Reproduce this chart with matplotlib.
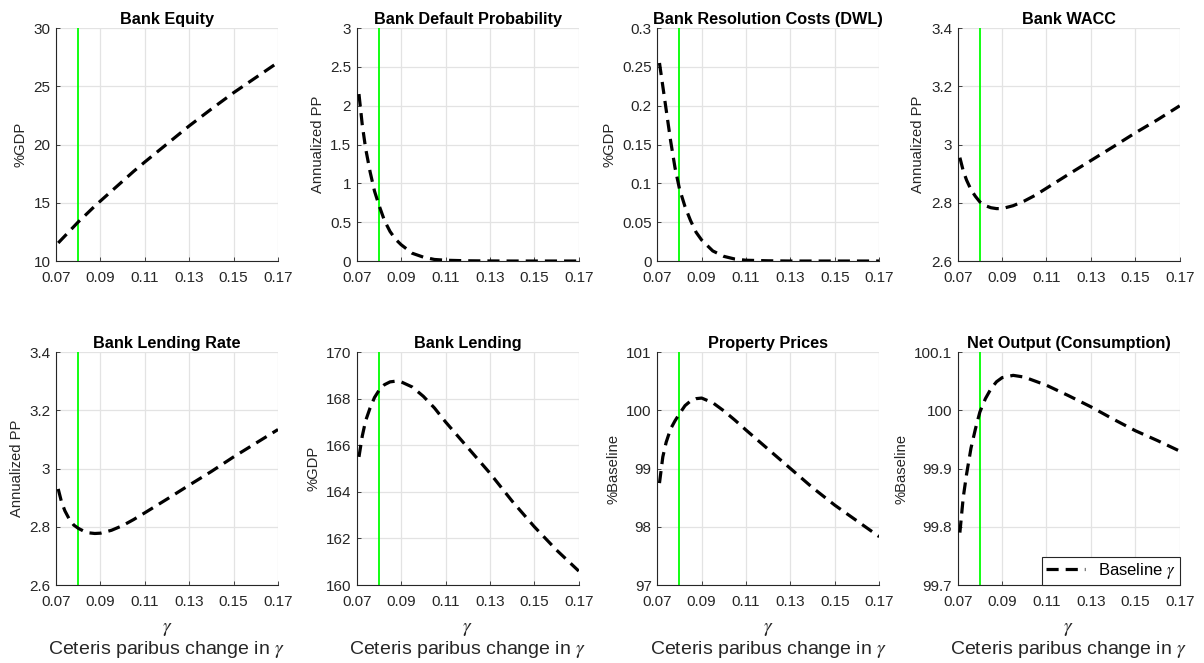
import matplotlib
matplotlib.use("Agg")
import matplotlib.pyplot as plt
from matplotlib.ticker import FuncFormatter
import numpy as np

plt.rcParams['font.family'] = ['Liberation Sans', 'DejaVu Sans']
plt.rcParams['mathtext.fontset'] = 'stix'

# grid of gamma values (x axis)
gamma = [0.071, 0.0725, 0.074, 0.076, 0.078, 0.08, 0.0825, 0.085, 0.0875, 0.09,
         0.095, 0.10, 0.105, 0.11, 0.12, 0.13, 0.14, 0.15, 0.16, 0.17]
gamma_base = 0.08

bank_equity = [11.55, 11.85, 12.15, 12.55, 12.95, 13.35, 13.8, 14.26, 14.72, 15.15,
               16.0, 16.85, 17.7, 18.5, 20.05, 21.6, 23.05, 24.45, 25.75, 27.05]
default_prob = [2.15, 1.75, 1.45, 1.15, 0.9, 0.72, 0.52, 0.38, 0.28, 0.21,
                0.10, 0.05, 0.02, 0.01, 0.003, 0.001, 0.0, 0.0, 0.0, 0.0]
resolution_costs = [0.255, 0.225, 0.195, 0.155, 0.12, 0.093, 0.07, 0.052, 0.037, 0.027,
                    0.013, 0.006, 0.0025, 0.001, 0.0003, 0.0, 0.0, 0.0, 0.0, 0.0]
bank_wacc = [2.955, 2.91, 2.878, 2.845, 2.822, 2.803, 2.79, 2.783, 2.78, 2.78,
             2.79, 2.806, 2.826, 2.85, 2.898, 2.945, 2.992, 3.04, 3.085, 3.133]
lending_rate = [2.93, 2.885, 2.855, 2.826, 2.806, 2.795, 2.785, 2.779, 2.777, 2.778,
                2.788, 2.804, 2.825, 2.848, 2.895, 2.943, 2.99, 3.04, 3.087, 3.134]
bank_lending = [165.5, 166.4, 167.05, 167.6, 168.05, 168.35, 168.6, 168.72, 168.75, 168.72,
                168.5, 168.1, 167.6, 167.0, 165.9, 164.8, 163.6, 162.5, 161.5, 160.6]
property_prices = [98.75, 99.2, 99.45, 99.68, 99.82, 99.94, 100.08, 100.16, 100.2, 100.21,
                   100.13, 99.99, 99.83, 99.66, 99.33, 99.0, 98.67, 98.37, 98.1, 97.83]
net_output = [99.79, 99.85, 99.89, 99.935, 99.968, 99.997, 100.02, 100.037, 100.049, 100.056,
              100.06, 100.057, 100.05, 100.043, 100.025, 100.006, 99.985, 99.965, 99.948, 99.93]

titles = ['Bank Equity', 'Bank Default Probability', 'Bank Resolution Costs (DWL)', 'Bank WACC',
          'Bank Lending Rate', 'Bank Lending', 'Property Prices', 'Net Output (Consumption)']
ylabels = ['%GDP', 'Annualized PP', '%GDP', 'Annualized PP',
           'Annualized PP', '%GDP', '%Baseline', '%Baseline']
series = [bank_equity, default_prob, resolution_costs, bank_wacc,
          lending_rate, bank_lending, property_prices, net_output]
ylims = [(10, 30), (0, 3), (0, 0.3), (2.6, 3.4), (2.6, 3.4), (160, 170), (97, 101), (99.7, 100.1)]
ysteps = [5, 0.5, 0.05, 0.2, 0.2, 2, 1, 0.1]
xticks = [0.07, 0.09, 0.11, 0.13, 0.15, 0.17]

fig = plt.figure(figsize=(12.04, 6.63), dpi=100)
lefts = [0.0465, 0.2963, 0.5459, 0.7954]
bottoms = [0.6063, 0.1176]
fmt = FuncFormatter(lambda v, p: '%g' % round(v, 6))
txt = '#262626'

for k in range(8):
    r, c = divmod(k, 4)
    ax = fig.add_axes([lefts[c], bottoms[r], 0.1844, 0.3514])
    ax.plot(gamma, series[k], color='k', lw=2.3, dashes=(3.8, 2.2), label='Baseline $\\gamma$', zorder=3)
    ax.axvline(gamma_base, color='#00ff00', lw=1.3, zorder=2)
    ax.set_xlim(0.07, 0.17)
    lo, hi = ylims[k]
    ax.set_ylim(lo, hi)
    ax.set_xticks(xticks)
    ax.set_yticks(np.arange(lo, hi + ysteps[k] / 2, ysteps[k]))
    ax.xaxis.set_major_formatter(fmt)
    ax.yaxis.set_major_formatter(fmt)
    ax.grid(True, color='#e3e3e3', lw=0.9, zorder=0)
    ax.set_axisbelow(True)
    for s in ['top', 'right']:
        ax.spines[s].set_visible(False)
    for s in ['left', 'bottom']:
        ax.spines[s].set_color(txt)
        ax.spines[s].set_linewidth(0.8)
    ax.tick_params(direction='in', length=3, width=0.6, colors=txt, labelsize=11)
    ax.tick_params(axis='x', pad=7)
    ax.tick_params(axis='y', pad=4)
    ax.set_title(titles[k], fontsize=11.7, fontweight='bold', pad=3)
    ax.set_ylabel(ylabels[k], fontsize=10.6, color=txt, labelpad=4)
    if r == 1:
        ax.set_xlabel('$\\gamma$\nCeteris paribus change in $\\gamma$', fontsize=14, color=txt,
                      labelpad=9, linespacing=1.05)
    if k == 7:
        leg = ax.legend(loc='lower right', fontsize=12, frameon=True, fancybox=False,
                        borderaxespad=0.0, handlelength=2.3, borderpad=0.25)
        leg.get_frame().set_edgecolor(txt)
        leg.get_frame().set_linewidth(0.8)
        leg.get_frame().set_alpha(1)

fig.savefig('out.png', dpi=100)
